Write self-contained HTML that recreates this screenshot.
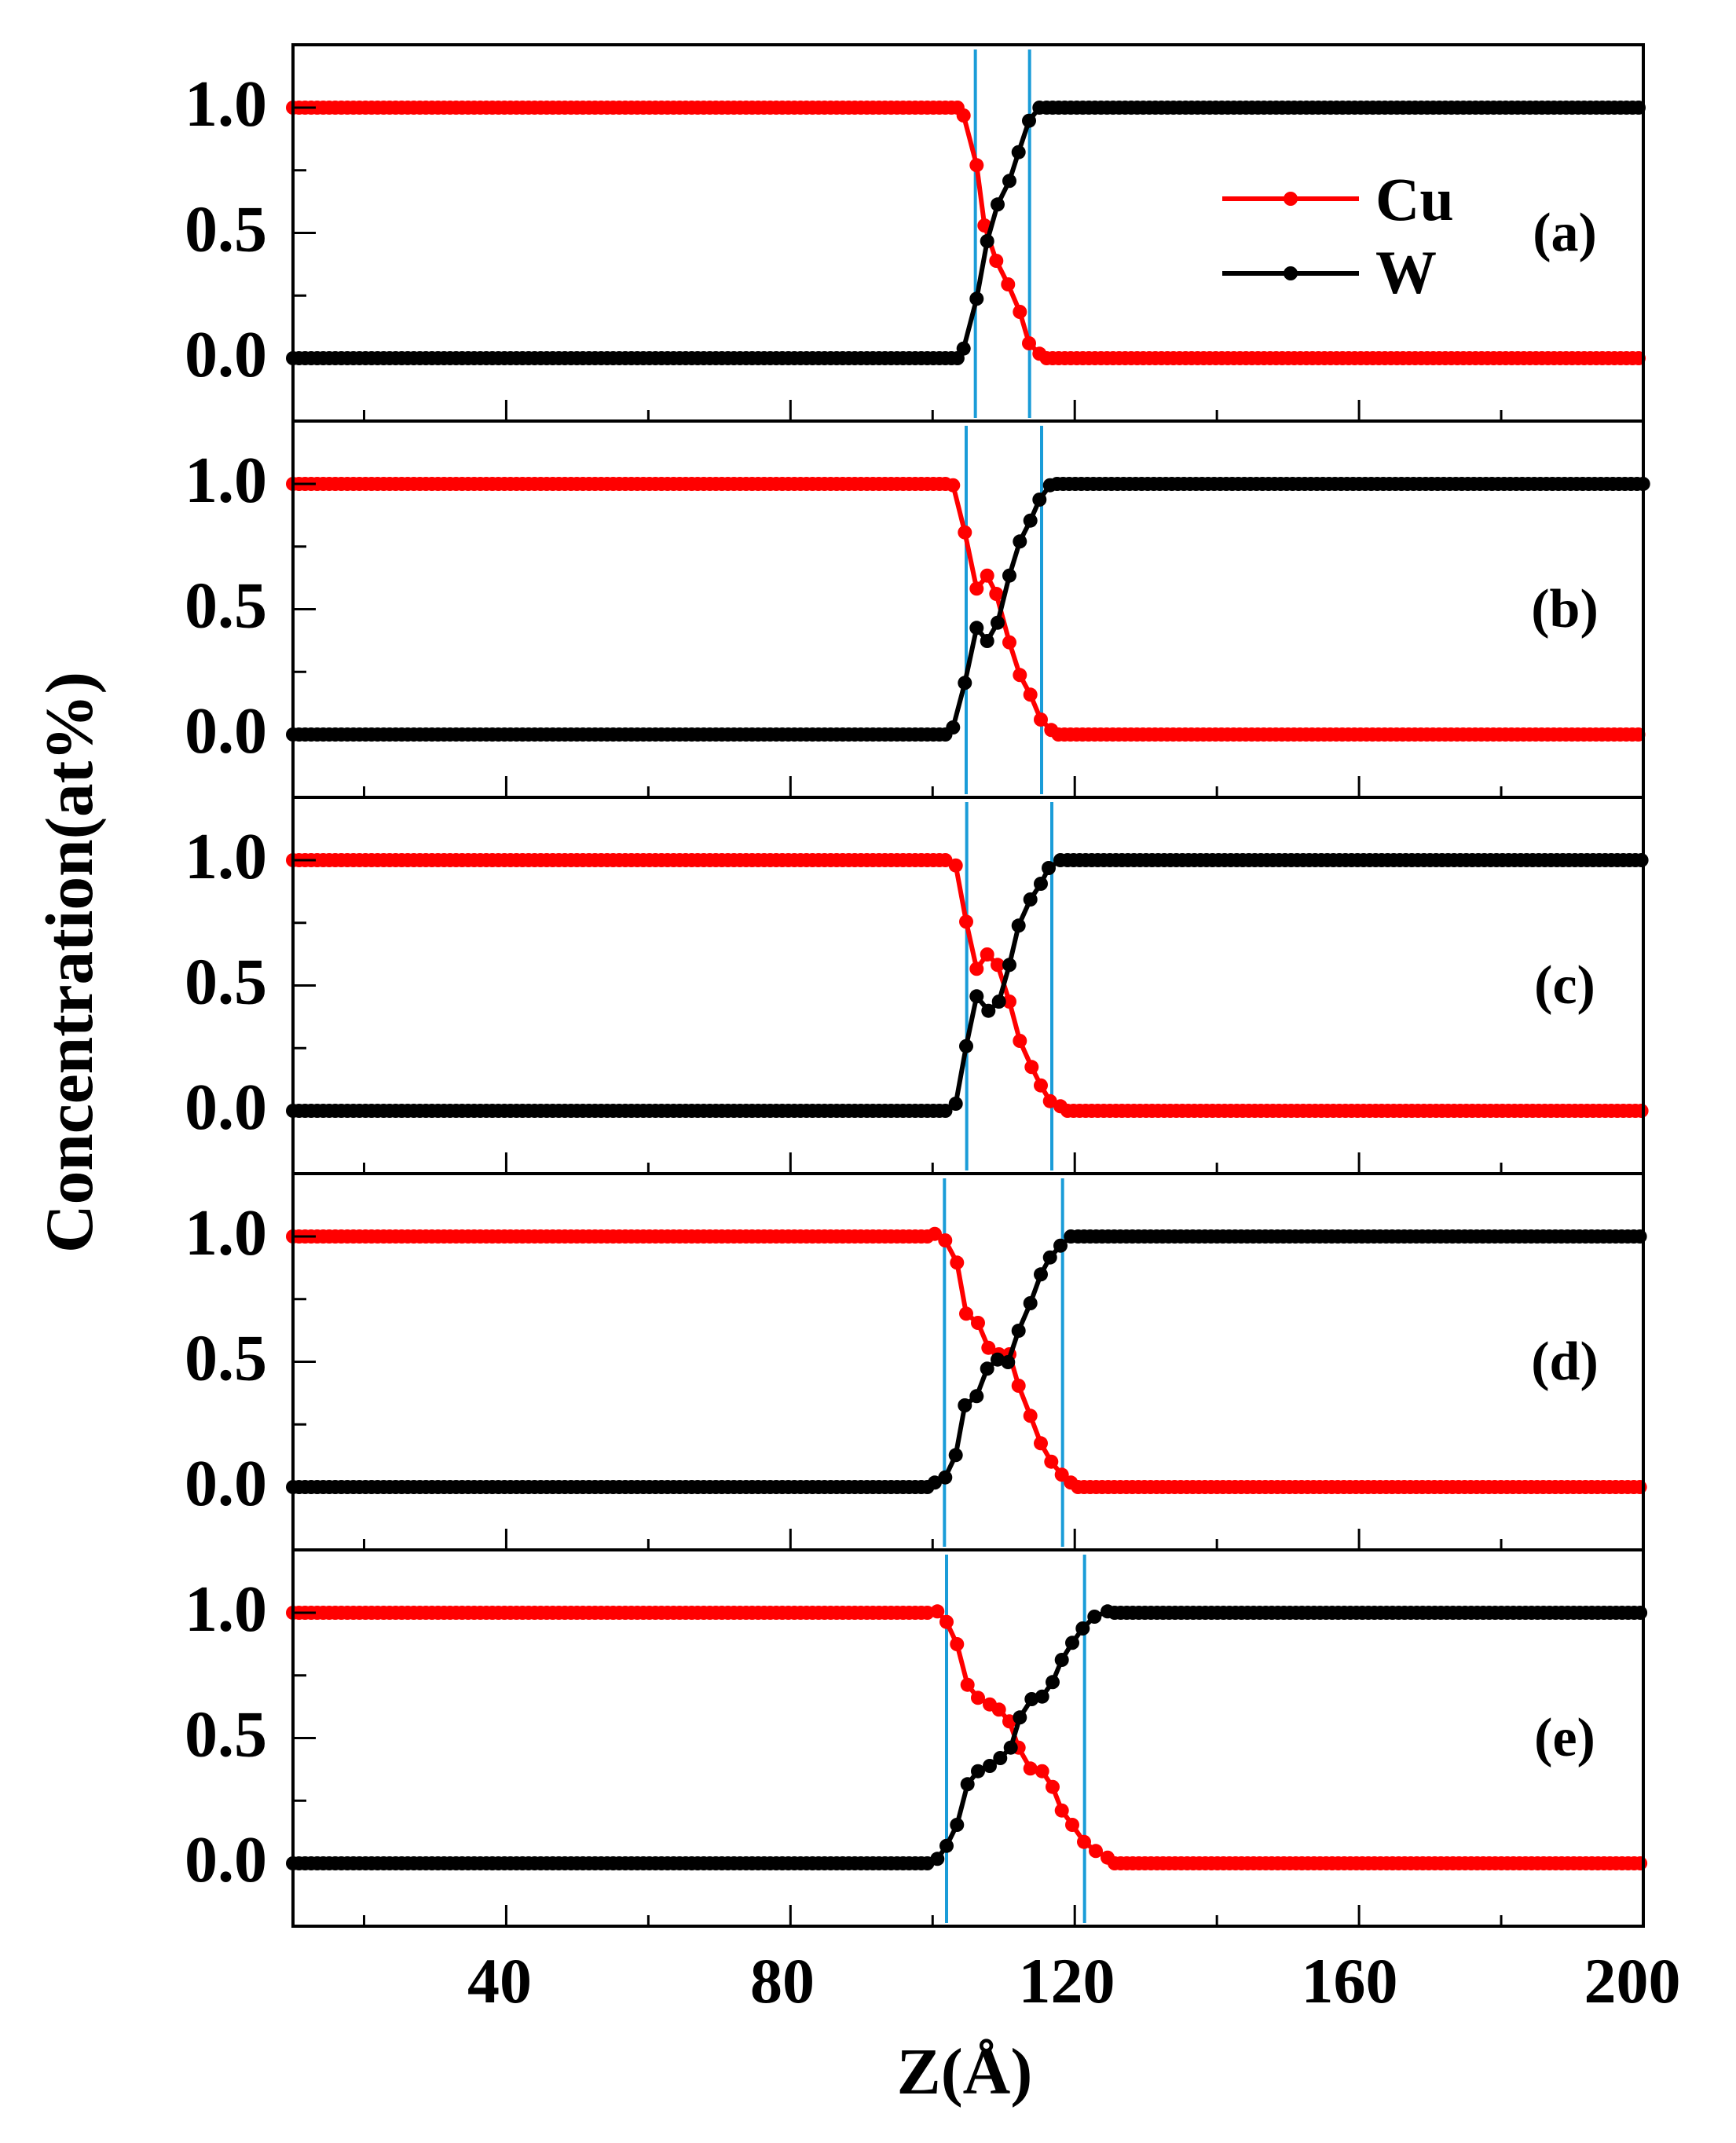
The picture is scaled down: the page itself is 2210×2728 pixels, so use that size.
<!DOCTYPE html>
<html><head><meta charset="utf-8"><style>
html,body{margin:0;padding:0;background:#fff;}
svg{display:block;}
text{font-family:"Liberation Serif",serif;font-weight:bold;fill:#000;}
</style></head><body>
<svg id="s" width="2210" height="2728" viewBox="0 0 2210 2728" xmlns="http://www.w3.org/2000/svg">
<text x="117" y="1225" font-size="86" text-anchor="middle" textLength="740" lengthAdjust="spacingAndGlyphs" transform="rotate(-90 117 1225)">Concentration(at%)</text>
<text x="636" y="2549" font-size="82" text-anchor="middle">40</text>
<text x="996" y="2549" font-size="82" text-anchor="middle">80</text>
<text x="1358" y="2549" font-size="82" text-anchor="middle">120</text>
<text x="1718" y="2549" font-size="82" text-anchor="middle">160</text>
<text x="2078" y="2549" font-size="82" text-anchor="middle">200</text>
<text x="1228" y="2665" font-size="84" text-anchor="middle">Z(Å)</text>
<line x1="1556" y1="253" x2="1730" y2="253" stroke="#f00" stroke-width="6"/>
<circle cx="1643" cy="253" r="9" fill="#f00"/>
<text x="1751" y="280" font-size="78">Cu</text>
<line x1="1556" y1="348" x2="1730" y2="348" stroke="#000" stroke-width="6"/>
<circle cx="1643" cy="348" r="9" fill="#000"/>
<text x="1751" y="373" font-size="78">W</text>
</svg>
<script>
const NS="http://www.w3.org/2000/svg",S=document.getElementById('s');
const L=373,R=2092,T0=57,PH=479;
function X(a){return L+(a-10)*(R-L)/190;}
function el(t,a){const e=document.createElementNS(NS,t);for(const k in a)e.setAttribute(k,a[k]);S.appendChild(e);return e;}
function zA(zx){return 10+(1150+zx/3-L)*190/(R-L);}
function zV(zy){return (399-zy/3)/319;}
const P=[
 {W:[[230,1160],[280,970],[320,750],[360,610],[405,520],[440,410],[480,290],[520,240]],
  C:[[230,270],[280,460],[310,690],[355,825],[400,915],[445,1020],[480,1140],[520,1180]],B:[275,482],lab:"(a)"},
 {W:[[190,1170],[235,1000],[280,790],[320,840],[360,770],[405,590],[445,460],[485,380],[520,300],[560,245]],
  C:[[190,245],[235,425],[280,640],[320,590],[355,660],[405,845],[445,970],[485,1045],[525,1140],[565,1180]],B:[240,528],lab:"(b)"},
 {W:[[200,1170],[240,950],[280,760],[325,815],[365,780],[405,640],[440,490],[485,390],[525,330],[555,270],[600,240]],
  C:[[200,260],[240,475],[280,655],[320,600],[360,640],[405,780],[445,930],[490,1030],[525,1100],[560,1160],[600,1180]],B:[242,567],lab:"(c)"},
 {W:[[120,1180],[160,1160],[200,1075],[235,885],[280,850],[320,745],[360,710],[400,720],[440,600],[485,495],[525,385],[560,320],[600,275],[640,240]],
  C:[[120,230],[160,255],[205,340],[240,535],[285,570],[325,665],[365,690],[405,690],[440,810],[485,925],[525,1030],[565,1100],[605,1150],[640,1180]],B:[157,608],lab:"(d)"},
 {W:[[130,1180],[165,1130],[205,1050],[245,895],[285,845],[330,825],[370,795],[410,755],[445,640],[490,570],[530,560],[570,505],[605,420],[645,355],[685,300],[730,255],[780,235]],
  C:[[130,235],[165,275],[205,360],[245,515],[285,565],[330,590],[365,610],[405,655],[440,755],[485,835],[530,845],[570,905],[605,995],[645,1050],[690,1115],[735,1150],[780,1175]],B:[165,692],lab:"(e)"}
];
P.forEach((p,i)=>{
 const top=T0+PH*i,bot=top+PH;
 const Y=v=>top+399-v*319;
 p.B.forEach(b=>{const x=1150+b/3;el('line',{x1:x,y1:top+6,x2:x,y2:bot-4,stroke:'#1a9cd8','stroke-width':4});});
 [['C','#f00',1,0],['W','#000',0,1]].forEach(([k,col,lv,rv])=>{
  const tr=p[k].map(q=>[zA(q[0]),zV(q[1])]);
  const pts=[];
  for(let a=10;a<tr[0][0]-0.8;a+=0.85)pts.push([a,lv]);
  tr.forEach(q=>pts.push(q));
  const last=tr[tr.length-1][0];
  for(let a=last+1.0;a<=200.01;a+=0.85)pts.push([a,rv]);
  el('polyline',{points:pts.map(q=>X(q[0]).toFixed(1)+','+Y(q[1]).toFixed(1)).join(' '),fill:'none',stroke:col,'stroke-width':6});
  pts.forEach(q=>el('circle',{cx:X(q[0]).toFixed(1),cy:Y(q[1]).toFixed(1),r:9,fill:col}));
 });
 el('rect',{x:L,y:top,width:R-L,height:PH,fill:'none',stroke:'#000','stroke-width':4});
 for(let a=20;a<=200;a+=20){const x=X(a),len=(a%40==0)?27:14;el('line',{x1:x,y1:bot,x2:x,y2:bot-len,stroke:'#000','stroke-width':3});}
 [[0,29],[0.25,17],[0.5,29],[0.75,17],[1,29]].forEach(([v,len])=>el('line',{x1:L,y1:Y(v),x2:L+len,y2:Y(v),stroke:'#000','stroke-width':3}));
 [['1.0',1],['0.5',0.5],['0.0',0]].forEach(([t,v])=>{const e=el('text',{x:340,y:Y(v)+23,'font-size':84,'text-anchor':'end'});e.textContent=t;});
 const e=el('text',{x:1992,y:top+262,'font-size':70,'text-anchor':'middle'});e.textContent=p.lab;
});
</script>
</body></html>
